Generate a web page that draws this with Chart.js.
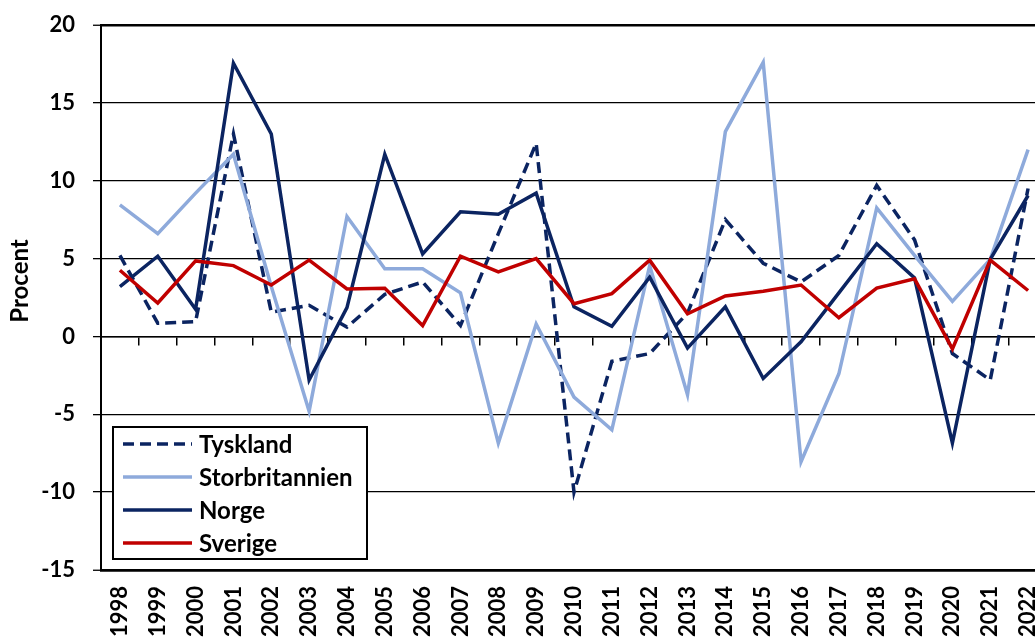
<!DOCTYPE html>
<html>
<head>
<meta charset="utf-8">
<script src="https://cdn.jsdelivr.net/npm/chart.js@4.4.1/dist/chart.umd.min.js"></script>
<style>
  html, body { margin: 0; padding: 0; background: #fff; overflow: hidden; }
  #wrap { position: absolute; left: 0; top: 0; width: 1060px; height: 660px; }
</style>
</head>
<body>
<div id="wrap"><canvas id="chart" width="1060" height="660"></canvas></div>
<script>
const years = ["1998", "1999", "2000", "2001", "2002", "2003", "2004", "2005", "2006", "2007", "2008", "2009",
  "2010", "2011", "2012", "2013", "2014", "2015", "2016", "2017", "2018", "2019", "2020", "2021", "2022"];

const tyskland = [5.2, 0.85, 0.95, 13.0, 1.55, 2.0, 0.6, 2.7, 3.5, 0.7, 6.6, 12.4, -10.0, -1.6, -1.1, 1.5, 7.5, 4.7, 3.5, 5.2, 9.7, 6.2, -1.1, -2.8, 9.5];
const storbritannien = [8.45, 6.6, 9.2, 11.7, 3.2, -4.8, 7.7, 4.35, 4.35, 2.8, -6.85, 0.8, -3.9, -6.0, 4.55, -3.75, 13.15, 17.6, -8.05, -2.4, 8.25, 5.2, 2.25, 4.95, 12.0];
const norge = [3.2, 5.15, 1.75, 17.55, 13.0, -2.8, 1.85, 11.7, 5.3, 8.0, 7.85, 9.2, 1.9, 0.65, 3.8, -0.75, 1.9, -2.7, -0.35, 2.8, 5.95, 3.75, -6.85, 4.95, 9.05];
const sverige = [4.25, 2.15, 4.85, 4.55, 3.3, 4.9, 3.05, 3.1, 0.7, 5.15, 4.15, 5.0, 2.1, 2.75, 4.9, 1.45, 2.6, 2.9, 3.3, 1.2, 3.1, 3.7, -0.8, 4.9, 2.95];

const yTicks = [20, 15, 10, 5, 0, -5, -10, -15];

const NAVY = "#0B2461";
const LIGHT = "#8EAADB";
const RED = "#C00000";
const FONT = "Lato, 'Open Sans', sans-serif";

// legend box inside the plot, bottom left
const legendBox = {
  id: "legendBox",
  afterDraw(chart) {
    const { ctx, chartArea } = chart;
    const w = 254, h = 132;
    const x0 = chartArea.left + 12, y0 = chartArea.bottom - 11 - h;
    ctx.save();
    ctx.fillStyle = "#fff";
    ctx.fillRect(x0, y0, w, h);
    ctx.strokeStyle = "#000";
    ctx.lineWidth = 2;
    ctx.strokeRect(x0, y0, w, h);
    ctx.font = "bold 24px " + FONT;
    ctx.textBaseline = "middle";
    chart.data.datasets.forEach((ds, i) => {
      const y = y0 + 17 + i * 33;
      ctx.beginPath();
      ctx.setLineDash(ds.borderDash || []);
      ctx.strokeStyle = ds.borderColor;
      ctx.lineWidth = ds.borderWidth;
      ctx.moveTo(x0 + 10, y);
      ctx.lineTo(x0 + 79, y);
      ctx.stroke();
      ctx.setLineDash([]);
      ctx.fillStyle = "#000";
      ctx.fillText(ds.label, x0 + 86, y + 1);
    });
    ctx.restore();
  }
};

// y axis title
const yTitle = {
  id: "yTitle",
  afterDraw(chart) {
    const { ctx } = chart;
    ctx.save();
    ctx.translate(20, 281);
    ctx.rotate(-Math.PI / 2);
    ctx.font = "bold 24px " + FONT;
    ctx.fillStyle = "#000";
    ctx.textAlign = "center";
    ctx.textBaseline = "middle";
    ctx.fillText("Procent", 0, 0);
    ctx.restore();
  }
};

const line = (label, data, color, dash, order) => ({
  label, data,
  borderColor: color,
  backgroundColor: color,
  borderWidth: 3.5,
  borderDash: dash,
  pointRadius: 0,
  tension: 0,
  fill: false,
  order
});

new Chart(document.getElementById("chart"), {
  type: "line",
  data: {
    labels: years,
    datasets: [
      line("Tyskland", tyskland, NAVY, [11, 6], 3),
      line("Storbritannien", storbritannien, LIGHT, [], 2),
      line("Norge", norge, NAVY, [], 1),
      line("Sverige", sverige, RED, [], 0)
    ]
  },
  options: {
    responsive: false,
    animation: false,
    layout: { padding: { top: 25, right: 13, bottom: 0, left: 0 } },
    plugins: { legend: { display: false }, tooltip: { enabled: false } },
    scales: {
      x: {
        type: "category",
        position: "bottom",
        offset: true,
        grid: { display: false },
        border: { display: true, color: "#000", width: 2.5 },
        ticks: {
          minRotation: 90, maxRotation: 90, autoSkip: false, padding: 8,
          color: "#000", font: { family: FONT, size: 22, weight: "bold" }
        },
        afterFit: s => { s.height = 90; s.paddingLeft = 0; s.paddingRight = 0; }
      },
      x2: {
        type: "category",
        position: { y: 0 },
        offset: true,
        grid: { drawOnChartArea: false, drawTicks: true, tickLength: 8, color: "#000", lineWidth: 1.5, offset: true },
        border: { display: true, color: "#000", width: 1.5 },
        ticks: { display: false, autoSkip: false },
        afterFit: s => { s.paddingLeft = 0; s.paddingRight = 0; }
      },
      y: {
        min: -15, max: 20,
        afterBuildTicks: s => { s.ticks = yTicks.map(v => ({ value: v })); },
        grid: {
          color: "#000",
          lineWidth: c => (c.tick && (c.tick.value === 20 || c.tick.value === -15)) ? 2.5 : 1.3,
          tickLength: 8, tickWidth: 1.3, tickColor: "#000"
        },
        border: { display: true, color: "#000", width: 2 },
        ticks: { padding: 18, color: "#000", font: { family: FONT, size: 22, weight: "bold" } },
        afterFit: s => { s.width = 101; s.paddingTop = 0; s.paddingBottom = 0; }
      }
    }
  },
  plugins: [legendBox, yTitle]
});
</script>
</body>
</html>
